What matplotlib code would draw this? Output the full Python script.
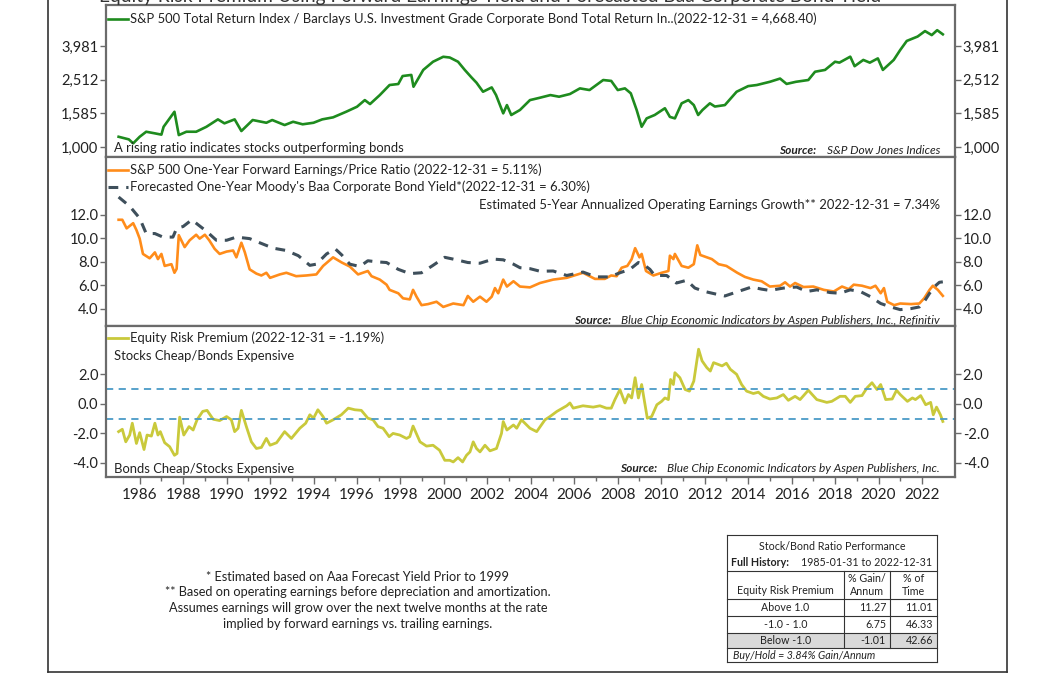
import matplotlib
matplotlib.use("Agg")
import matplotlib.pyplot as plt
from matplotlib.lines import Line2D
from matplotlib.patches import Rectangle
from matplotlib.ticker import FixedLocator, FuncFormatter, NullFormatter

################################################################################
# data

ratio_years = [1985.03, 1985.5, 1985.7, 1986.0, 1986.3, 1986.7, 1987.0, 1987.1, 1987.6, 1987.8,
               1988.15, 1988.6, 1989.07, 1989.6, 1989.9, 1990.37, 1990.68, 1991.2, 1991.83, 1992.1,
               1992.67, 1993.06, 1993.5, 1994.0, 1994.4, 1994.9, 1995.5, 1996.0, 1996.36, 1996.6,
               1997.05, 1997.5, 1997.9, 1998.1, 1998.5, 1998.6, 1999.05, 1999.5, 1999.97, 2000.27,
               2000.65, 2000.96, 2001.27, 2001.5, 2001.8, 2002.2, 2002.4, 2002.73, 2002.9, 2003.1,
               2003.5, 2003.96, 2004.4, 2004.9, 2005.3, 2005.8, 2006.26, 2006.7, 2007.33, 2007.7,
               2008.0, 2008.33, 2008.6, 2008.87, 2009.1, 2009.33, 2009.7, 2010.17, 2010.4, 2010.63,
               2010.94, 2011.25, 2011.5, 2011.7, 2011.9, 2012.24, 2012.47, 2012.93, 2013.47, 2014.0,
               2014.4, 2015.0, 2015.47, 2015.77, 2016.2, 2016.77, 2017.08, 2017.54, 2018.0, 2018.2,
               2018.7, 2018.9, 2019.3, 2019.6, 2019.97, 2020.2, 2020.7, 2021.0, 2021.3, 2021.8,
               2022.14, 2022.45, 2022.7, 2022.96]
ratio_values = [1151, 1111, 1052, 1151, 1233, 1206, 1185, 1319, 1620, 1178,
                1233, 1233, 1319, 1460, 1383, 1460, 1245, 1447, 1394, 1447,
                1351, 1413, 1365, 1394, 1460, 1501, 1620, 1735, 1900, 1800,
                2035, 2335, 2367, 2640, 2680, 2280, 2870, 3210, 3435, 3400,
                3210, 2870, 2590, 2410, 2130, 2260, 2035, 1585, 1775, 1550,
                1660, 1900, 1960, 2035, 1990, 2065, 2230, 2180, 2500, 2470,
                2180, 2230, 2085, 1660, 1320, 1480, 1550, 1700, 1510, 1480,
                1818, 1900, 1775, 1550, 1660, 1818, 1740, 1775, 2130, 2300,
                2335, 2440, 2550, 2370, 2440, 2500, 2800, 2870, 3210, 3170,
                3440, 3020, 3290, 3170, 3360, 2870, 3290, 3770, 4265, 4530,
                4880, 4620, 4940, 4668]

ey_years = [1985.03, 1985.2, 1985.4, 1985.7, 1985.85, 1986.0, 1986.15, 1986.46, 1986.7, 1986.84,
            1987.0, 1987.15, 1987.46, 1987.6, 1987.7, 1987.8, 1988.07, 1988.3, 1988.6, 1988.76,
            1989.0, 1989.2, 1989.45, 1989.68, 1990.0, 1990.3, 1990.45, 1990.68, 1990.84, 1991.06,
            1991.37, 1991.6, 1991.83, 1992.0, 1992.45, 1992.75, 1993.2, 1993.67, 1994.13, 1994.44,
            1994.9, 1995.3, 1995.67, 1996.05, 1996.5, 1996.67, 1997.05, 1997.36, 1997.5, 1997.9,
            1998.12, 1998.43, 1998.58, 1998.74, 1998.97, 1999.27, 1999.66, 1999.97, 2000.43, 2000.9,
            2001.1, 2001.35, 2001.66, 2001.96, 2002.2, 2002.35, 2002.5, 2002.73, 2002.9, 2003.2,
            2003.5, 2003.96, 2004.42, 2005.03, 2005.65, 2006.4, 2006.95, 2007.4, 2007.7, 2007.95,
            2008.18, 2008.44, 2008.64, 2008.8, 2009.0, 2009.1, 2009.3, 2009.64, 2010.02, 2010.33,
            2010.4, 2010.56, 2010.63, 2010.94, 2011.25, 2011.5, 2011.66, 2011.8, 2012.1, 2012.33,
            2012.64, 2013.0, 2013.5, 2013.85, 2014.24, 2014.62, 2015.0, 2015.47, 2015.7, 2015.93,
            2016.16, 2016.55, 2017.0, 2017.48, 2017.94, 2018.32, 2018.63, 2018.86, 2019.24, 2019.63,
            2019.86, 2020.1, 2020.25, 2020.4, 2020.72, 2021.0, 2021.5, 2021.88, 2022.1, 2022.35,
            2022.5, 2022.73, 2022.96]
ey_values = [11.57, 11.57, 10.84, 11.28, 10.7, 9.97, 8.67, 8.3, 8.8, 8.23,
             8.67, 7.65, 7.8, 7.07, 7.4, 10.26, 9.25, 9.83, 10.3, 9.97,
             10.3, 9.83, 9.1, 8.67, 8.87, 8.96, 8.38, 9.62, 8.8, 7.36,
             7.0, 6.84, 7.07, 6.64, 6.93, 7.07, 6.78, 6.84, 6.93, 7.65,
             8.38, 7.94, 7.6, 6.93, 7.22, 6.78, 6.49, 6.06, 5.62, 5.33,
             4.9, 4.81, 5.62, 5.04, 4.32, 4.41, 4.61, 4.17, 4.46, 4.32,
             5.1, 4.61, 5.04, 4.61, 5.04, 5.77, 5.33, 6.49, 5.9, 6.35,
             5.9, 5.83, 6.2, 6.49, 6.64, 7.07, 6.55, 6.55, 6.84, 6.78,
             7.5, 7.65, 8.23, 9.16, 8.38, 8.67, 7.22, 6.84, 7.07, 7.22,
             8.52, 8.23, 8.67, 7.65, 7.5, 7.8, 9.4, 8.58, 8.38, 8.23,
             7.8, 7.65, 7.07, 6.72, 6.49, 6.35, 5.9, 5.97, 6.26, 5.9,
             6.2, 5.86, 5.9, 5.62, 5.48, 5.9, 5.68, 6.06, 5.97, 5.77,
             5.97, 5.33, 5.77, 4.61, 4.32, 4.46, 4.41, 4.46, 4.9, 5.62,
             5.97, 5.62, 5.11]

baa_years = [1985.03, 1985.54, 1986.0, 1986.3, 1986.7, 1987.07, 1987.53, 1987.7, 1988.0, 1988.4,
             1988.7, 1989.07, 1989.53, 1990.0, 1990.45, 1991.06, 1991.52, 1992.14, 1992.75, 1993.3,
             1993.83, 1994.13, 1994.6, 1995.0, 1995.3, 1995.67, 1996.13, 1996.5, 1996.9, 1997.36,
             1997.9, 1998.43, 1998.97, 1999.5, 2000.04, 2000.58, 2001.1, 2001.66, 2002.27, 2002.73,
             2003.2, 2003.5, 2003.96, 2004.42, 2005.03, 2005.65, 2006.4, 2007.0, 2007.63, 2008.1,
             2008.56, 2008.95, 2009.17, 2009.48, 2009.7, 2010.25, 2010.7, 2011.17, 2011.55, 2012.0,
             2012.47, 2012.93, 2013.54, 2014.16, 2014.62, 2015.0, 2015.62, 2016.23, 2016.7, 2017.16,
             2017.77, 2018.23, 2018.7, 2019.16, 2019.63, 2020.1, 2020.56, 2021.0, 2021.5, 2021.88,
             2022.1, 2022.35, 2022.58, 2022.8, 2022.96]
baa_values = [13.5, 12.72, 11.7, 10.4, 10.4, 10.1, 10.1, 10.84, 11.0, 11.57,
              11.13, 10.6, 9.83, 9.83, 10.1, 9.97, 9.62, 9.16, 8.96, 8.52,
              7.7, 7.8, 8.67, 9.1, 8.58, 7.8, 7.6, 8.09, 8.0, 7.94,
              7.36, 7.0, 7.07, 7.7, 8.38, 8.17, 7.94, 7.88, 8.23, 8.17,
              7.8, 7.5, 7.42, 7.2, 7.22, 6.84, 7.13, 6.72, 6.72, 7.07,
              7.36, 7.94, 7.8, 7.36, 6.84, 6.84, 6.2, 6.43, 5.77, 5.48,
              5.28, 5.1, 5.48, 5.86, 5.68, 5.57, 5.77, 5.86, 5.48, 5.62,
              5.39, 5.33, 5.62, 5.48, 5.04, 4.46, 4.17, 3.94, 4.03, 4.17,
              4.61, 5.33, 5.9, 6.26, 6.30]

erp_years = [1985.03, 1985.2, 1985.36, 1985.54, 1985.66, 1985.85, 1986.0, 1986.2, 1986.34, 1986.54,
             1986.7, 1986.84, 1986.95, 1987.15, 1987.38, 1987.6, 1987.72, 1987.84, 1988.03, 1988.27,
             1988.46, 1988.64, 1988.9, 1989.1, 1989.38, 1989.68, 1990.0, 1990.22, 1990.37, 1990.53,
             1990.68, 1990.91, 1991.14, 1991.37, 1991.6, 1991.83, 1992.0, 1992.3, 1992.67, 1992.98,
             1993.37, 1993.64, 1993.83, 1994.0, 1994.2, 1994.44, 1994.6, 1994.9, 1995.28, 1995.6,
             1995.9, 1996.2, 1996.5, 1996.74, 1996.97, 1997.2, 1997.48, 1997.66, 1997.97, 1998.28,
             1998.43, 1998.58, 1998.9, 1999.2, 1999.5, 1999.8, 2000.04, 2000.27, 2000.43, 2000.65,
             2000.86, 2001.04, 2001.2, 2001.35, 2001.5, 2001.66, 2001.89, 2002.12, 2002.42, 2002.65,
             2002.73, 2002.9, 2003.2, 2003.35, 2003.57, 2003.96, 2004.27, 2004.65, 2004.88, 2005.2,
             2005.65, 2005.8, 2005.95, 2006.4, 2006.87, 2007.18, 2007.48, 2007.7, 2007.87, 2008.1,
             2008.33, 2008.49, 2008.64, 2008.8, 2008.95, 2009.1, 2009.36, 2009.56, 2009.8, 2010.02,
             2010.17, 2010.33, 2010.43, 2010.56, 2010.63, 2010.86, 2011.1, 2011.3, 2011.5, 2011.72,
             2011.88, 2012.1, 2012.26, 2012.41, 2012.8, 2013.0, 2013.18, 2013.47, 2013.7, 2013.93,
             2014.24, 2014.47, 2014.7, 2015.0, 2015.32, 2015.62, 2015.85, 2016.16, 2016.39, 2016.77,
             2017.16, 2017.62, 2017.85, 2018.23, 2018.47, 2018.7, 2018.93, 2019.24, 2019.47, 2019.7,
             2019.93, 2020.1, 2020.33, 2020.63, 2020.83, 2021.0, 2021.33, 2021.56, 2021.7, 2021.94,
             2022.17, 2022.4, 2022.52, 2022.67, 2022.85, 2022.96]
erp_values = [-1.88, -1.72, -2.57, -2.11, -1.31, -2.68, -1.95, -3.09, -2.11, -2.18,
              -1.31, -2.11, -1.88, -2.63, -2.9, -3.48, -3.36, -0.9, -2.11, -1.54,
              -1.77, -1.08, -0.51, -0.44, -1.04, -1.13, -0.86, -1.08, -1.88, -1.65,
              -0.44, -1.54, -2.57, -3.02, -2.95, -2.34, -2.8, -2.63, -1.88, -2.34,
              -1.65, -1.31, -0.74, -0.97, -0.4, -0.86, -1.31, -1.08, -0.74, -0.29,
              -0.4, -0.44, -0.97, -1.08, -1.54, -1.65, -2.22, -2.0, -2.11, -2.34,
              -2.22, -1.5, -2.57, -2.86, -2.8, -3.14, -3.82, -3.82, -3.93, -3.64,
              -3.93, -3.48, -3.25, -2.57, -3.02, -3.25, -2.8, -3.18, -3.02, -2.0,
              -1.2, -1.77, -1.43, -1.65, -1.08, -1.65, -1.88, -1.08, -0.86, -0.51,
              -0.13, 0.06, -0.29, -0.13, -0.22, -0.13, -0.29, -0.29, 0.29, 0.97,
              0.06, 0.63, 0.4, 1.77, 0.4, 1.31, -0.97, -0.86, -0.06, 0.17,
              0.4, 0.29, 1.65, 1.31, 2.11, 1.77, 0.97, 0.86, 1.54, 3.7,
              2.91, 2.45, 2.22, 2.79, 2.57, 2.75, 2.34, 2.0, 1.31, 0.86,
              0.7, 0.79, 0.51, 0.33, 0.4, 0.63, 0.24, 0.51, 0.29, 0.92,
              0.29, 0.1, 0.17, 0.51, 0.51, 0.1, 0.51, 0.56, 1.08, 1.43,
              0.97, 1.31, 0.29, 0.33, 0.92, 0.63, 0.17, 0.4, 0.29, 0.56,
              -0.06, 0.1, -0.74, -0.22, -0.74, -1.19]

erp_bands = [1.0, -1.0]

ratio_ticks = [1000, 1585, 2512, 3981]
ey_ticks = [4.0, 6.0, 8.0, 10.0, 12.0]
erp_ticks = [-4.0, -2.0, 0.0, 2.0]
year_ticks = list(range(1986, 2023, 2))
year_minor = list(range(1987, 2022, 2))

table_header = ["Equity Risk Premium", "% Gain/\nAnnum", "% of\nTime"]
table_rows = [["Above 1.0", "11.27", "11.01"],
              ["-1.0 - 1.0", "6.75", "46.33"],
              ["Below -1.0", "-1.01", "42.66"]]

################################################################################

plt.rcParams["font.family"] = ["Lato", "DejaVu Sans"]
TXT = "#222222"
SPINE = "#6b6b6b"
W, H = 1056, 675
LFS = 9.4


def fx(x):
    return x / W


def fy(y):
    return 1 - y / H


def box(top, bottom):
    return [fx(106), fy(bottom), fx(955) - fx(106), (bottom - top) / H]


fig = plt.figure(figsize=(10.56, 6.75), dpi=100)
ax1 = fig.add_axes(box(5, 157))
ax2 = fig.add_axes(box(157, 326))
ax3 = fig.add_axes(box(326, 477))

for ax in (ax1, ax2, ax3):
    ax.set_xlim(1984.45, 2023.52)
    for sp in ax.spines.values():
        sp.set_color(SPINE)
        sp.set_linewidth(1.6)
    ax.tick_params(axis="y", which="both", direction="out", left=True, right=True,
                   labelleft=True, labelright=True, length=4, width=1, color=SPINE,
                   labelsize=10.5, labelcolor=TXT, pad=1.5)
    ax.tick_params(axis="x", which="both", bottom=False, labelbottom=False)

# panel 1: stock / bond ratio
ax1.plot(ratio_years, ratio_values, color="#1e8b1e", lw=1.9)
ax1.set_yscale("log")
ax1.set_ylim(873, 6970)
ax1.yaxis.set_major_locator(FixedLocator(ratio_ticks))
ax1.yaxis.set_minor_locator(FixedLocator([]))
ax1.yaxis.set_minor_formatter(NullFormatter())
ax1.yaxis.set_major_formatter(FuncFormatter(lambda v, p: f"{v:,.0f}"))

# panel 2: earnings yield vs bond yield
ax2.plot(ey_years, ey_values, color="#ff8c1a", lw=1.9)
ax2.plot(baa_years, baa_values, color="#3e4f5b", lw=2.2, dashes=(3.2, 2.6))
ax2.set_ylim(2.55, 16.9)
ax2.yaxis.set_major_locator(FixedLocator(ey_ticks))
ax2.yaxis.set_major_formatter(FuncFormatter(lambda v, p: f"{v:.1f}"))

# panel 3: equity risk premium
ax3.plot(erp_years, erp_values, color="#c9c93b", lw=2.0)
for b in erp_bands:
    ax3.axhline(b, color="#4a9bc7", lw=1.3, dashes=(4, 3))
ax3.set_ylim(-4.95, 5.27)
ax3.yaxis.set_major_locator(FixedLocator(erp_ticks))
ax3.yaxis.set_major_formatter(FuncFormatter(lambda v, p: f"{v:.1f}"))
ax3.xaxis.set_major_locator(FixedLocator(year_ticks))
ax3.xaxis.set_minor_locator(FixedLocator(year_minor))
ax3.tick_params(axis="x", which="both", bottom=True, direction="out", color=SPINE, width=1)
ax3.tick_params(axis="x", which="major", labelbottom=True, length=5, labelsize=11,
                labelcolor=TXT, pad=3)
ax3.tick_params(axis="x", which="minor", length=3)
ax3.xaxis.set_major_formatter(FuncFormatter(lambda v, p: f"{v:.0f}"))

# legends drawn by hand
def legend_entry(y, label, color, dashed=False, lw=1.9):
    kw = dict(dashes=(3.2, 2.6)) if dashed else {}
    fig.add_artist(Line2D([fx(108), fx(128)], [fy(y), fy(y)], color=color, lw=lw, **kw))
    fig.text(fx(130), fy(y), label, fontsize=LFS, color=TXT, va="center", ha="left")


legend_entry(19, "S&P 500 Total Return Index / Barclays U.S. Investment Grade Corporate Bond "
                 "Total Return In..(2022-12-31 = 4,668.40)", "#1e8b1e")
legend_entry(170, "S&P 500 One-Year Forward Earnings/Price Ratio (2022-12-31 = 5.11%)", "#ff8c1a")
legend_entry(187, "Forecasted One-Year Moody's Baa Corporate Bond Yield*(2022-12-31 = 6.30%)",
             "#3e4f5b", dashed=True, lw=2.2)
legend_entry(338, "Equity Risk Premium (2022-12-31 = -1.19%)", "#c9c93b", lw=2.0)

fig.text(fx(940), fy(205), "Estimated 5-Year Annualized Operating Earnings Growth** "
         "2022-12-31 = 7.34%", fontsize=LFS, color=TXT, ha="right", va="center")
fig.text(fx(114), fy(148), "A rising ratio indicates stocks outperforming bonds",
         fontsize=LFS, color=TXT, ha="left", va="center")
fig.text(fx(114), fy(356), "Stocks Cheap/Bonds Expensive", fontsize=LFS, color=TXT,
         ha="left", va="center")
fig.text(fx(114), fy(469), "Bonds Cheap/Stocks Expensive", fontsize=LFS, color=TXT,
         ha="left", va="center")

renderer = fig.canvas.get_renderer()


def source(y, text):
    t = fig.text(fx(940), fy(y), text, fontsize=8.6, style="italic", color=TXT,
                 ha="right", va="center")
    left = t.get_window_extent(renderer).x0
    fig.text((left - 10) / W, fy(y), "Source:", fontsize=8.6, style="italic",
             weight="bold", color=TXT, ha="right", va="center")


source(150, "S&P Dow Jones Indices")
source(320, "Blue Chip Economic Indicators by Aspen Publishers, Inc., Refinitiv")
source(469, "Blue Chip Economic Indicators by Aspen Publishers, Inc.")

# title, partly cut off at the top of the picture as in the source
fig.text(fx(490), fy(2), "Equity Risk Premium Using Forward Earnings Yield and Forecasted "
         "Baa Corporate Bond Yield", fontsize=13.8, color="#333333", ha="center", va="baseline")

# outer frame
for xs, ys in (([48, 48], [0, 672]), ([1007, 1007], [0, 672]), ([48, 1007], [672, 672])):
    fig.add_artist(Line2D([fx(v) for v in xs], [fy(v) for v in ys], color="#333333", lw=1.2))

# footnotes
notes = ["* Estimated based on Aaa Forecast Yield Prior to 1999",
         "** Based on operating earnings before depreciation and amortization.",
         "Assumes earnings will grow over the next twelve months at the rate",
         "implied by forward earnings vs. trailing earnings."]
for i, line in enumerate(notes):
    fig.text(fx(358), fy(577 + 15.5 * i), line, fontsize=9.2, color=TXT, ha="center", va="center")

# performance table
tl, tr, c1, c2 = 727, 937, 844, 890
rows_y = [535, 571, 599, 616, 633, 648, 662]
fig.add_artist(Rectangle((fx(tl), fy(648)), fx(tr) - fx(tl), (648 - 633) / H,
                         facecolor="#d9d9d9", edgecolor="none"))
for y in rows_y:
    fig.add_artist(Line2D([fx(tl), fx(tr)], [fy(y), fy(y)], color="#333333", lw=0.8))
for x in (tl, tr):
    fig.add_artist(Line2D([fx(x), fx(x)], [fy(535), fy(662)], color="#333333", lw=0.8))
for x in (c1, c2):
    fig.add_artist(Line2D([fx(x), fx(x)], [fy(571), fy(648)], color="#333333", lw=0.8))

fs = 7.7
fig.text(fx((tl + tr) / 2), fy(546.5), "Stock/Bond Ratio Performance", fontsize=fs,
         color=TXT, ha="center", va="center")
fig.text(fx(731), fy(562), "Full History:", fontsize=fs, weight="bold", color=TXT,
         ha="left", va="center")
fig.text(fx(932), fy(562), "1985-01-31 to 2022-12-31", fontsize=fs, color=TXT,
         ha="right", va="center")
fig.text(fx((tl + c1) / 2), fy(591), table_header[0], fontsize=fs, color=TXT,
         ha="center", va="center")
fig.text(fx((c1 + c2) / 2), fy(585), table_header[1], fontsize=fs, color=TXT,
         ha="center", va="center", linespacing=1.3)
fig.text(fx((c2 + tr) / 2), fy(585), table_header[2], fontsize=fs, color=TXT,
         ha="center", va="center", linespacing=1.3)
for i, row in enumerate(table_rows):
    yc = fy((rows_y[2 + i] + rows_y[3 + i]) / 2)
    fig.text(fx((tl + c1) / 2), yc, row[0], fontsize=fs, color=TXT, ha="center", va="center")
    fig.text(fx(c2 - 4), yc, row[1], fontsize=fs, color=TXT, ha="right", va="center")
    fig.text(fx(tr - 4), yc, row[2], fontsize=fs, color=TXT, ha="right", va="center")
fig.text(fx(733), fy(655.5), "Buy/Hold = 3.84% Gain/Annum", fontsize=fs, style="italic",
         color=TXT, ha="left", va="center")

fig.savefig("out.png", dpi=100)
